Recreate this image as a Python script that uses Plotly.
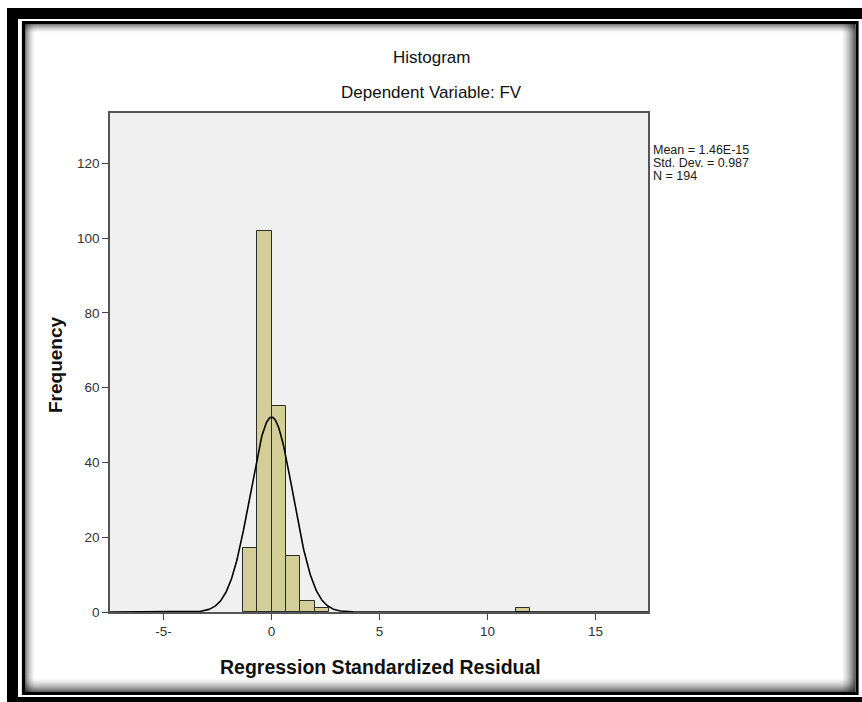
import numpy as np
import plotly.graph_objects as go

# ---- data ----
bin_width = 0.665
bin_starts = [-1.33, -0.665, 0.0, 0.665, 1.33, 1.995, 11.305]
counts = [17, 102, 55, 15, 3, 1, 1]
stat_mean = 1.46e-15
stat_sd = 0.987
stat_n = 194
x_tick_vals = [-5, 0, 5, 10, 15]
x_tick_text = ["-5-", "0", "5", "10", "15"]
y_tick_vals = [0, 20, 40, 60, 80, 100, 120]
stat_lines = ["Mean = 1.46E-15", "Std. Dev. = 0.987", "N = 194"]

# ---- geometry ----
W, H = 862, 702
L, R, T, B = 110, 648, 113, 612


def X(px):
    return (px - L) / (R - L)


def Y(py):
    return (B - py) / (B - T)


FONT = "Liberation Sans, Arial, sans-serif"

centers = [s + bin_width / 2 for s in bin_starts]

fig = go.Figure()
fig.add_trace(go.Bar(
    x=centers, y=counts, width=[bin_width] * len(counts),
    marker=dict(color="#D3CE98", line=dict(color="#2b2b2b", width=1)),
    hoverinfo="x+y", showlegend=False,
))

xs = np.linspace(-7.48, 17.43, 800)
ys = stat_n * bin_width * np.exp(-0.5 * ((xs - stat_mean) / stat_sd) ** 2) / (stat_sd * np.sqrt(2 * np.pi))
fig.add_trace(go.Scatter(x=xs, y=ys, mode="lines", line=dict(color="black", width=1.6),
                         showlegend=False, hoverinfo="skip"))

shapes = []
# outer thick black frame (top, left, bottom)
for x0, y0, x1, y1 in [(7, 8, 872, 19), (7, 8, 18, 712), (7, 697, 872, 712)]:
    shapes.append(dict(type="rect", xref="paper", yref="paper", x0=X(x0), x1=X(x1),
                       y0=Y(y1), y1=Y(y0), fillcolor="black", line=dict(width=0), layer="above"))
# inner thin frame
shapes.append(dict(type="rect", xref="paper", yref="paper", x0=X(23.5), x1=X(857), y0=Y(693.5), y1=Y(22.5),
                   line=dict(color="black", width=3.2), fillcolor="rgba(0,0,0,0)", layer="above"))
# shadow gradients inside inner frame
il, ir, it, ib = 25, 855, 24, 692
nL, nT, nR, nB = 10, 9, 14, 14
for i in range(nL):
    a = 0.5 * (1 - i / nL) ** 1.6
    shapes.append(dict(type="line", xref="paper", yref="paper", x0=X(il + i + 0.5), x1=X(il + i + 0.5),
                       y0=Y(ib), y1=Y(it), line=dict(color=f"rgba(0,0,0,{a:.3f})", width=1)))
for i in range(nT):
    a = 0.5 * (1 - i / nT) ** 1.6
    shapes.append(dict(type="line", xref="paper", yref="paper", x0=X(il), x1=X(ir),
                       y0=Y(it + i + 0.5), y1=Y(it + i + 0.5), line=dict(color=f"rgba(0,0,0,{a:.3f})", width=1)))
for i in range(nR):
    a = 0.6 * (1 - i / nR) ** 1.6
    shapes.append(dict(type="line", xref="paper", yref="paper", x0=X(ir - i - 0.5), x1=X(ir - i - 0.5),
                       y0=Y(ib), y1=Y(it), line=dict(color=f"rgba(0,0,0,{a:.3f})", width=1)))
for i in range(nB):
    a = 0.6 * (1 - i / nB) ** 1.6
    shapes.append(dict(type="line", xref="paper", yref="paper", x0=X(il), x1=X(ir),
                       y0=Y(ib - i - 0.5), y1=Y(ib - i - 0.5), line=dict(color=f"rgba(0,0,0,{a:.3f})", width=1)))

annotations = [
    dict(text="Histogram", x=X(431), y=Y(57), xref="paper", yref="paper", showarrow=False,
         xanchor="center", yanchor="middle", font=dict(family=FONT, size=17, color="#111111")),
    dict(text="Dependent Variable: FV", x=X(431), y=Y(93), xref="paper", yref="paper", showarrow=False,
         xanchor="center", yanchor="middle", font=dict(family=FONT, size=17, color="#111111")),
    dict(text="<b>Regression Standardized Residual</b>", x=X(380), y=Y(667), xref="paper", yref="paper",
         showarrow=False, xanchor="center", yanchor="middle", font=dict(family=FONT, size=19.5, color="#111111")),
    dict(text="<b>Frequency</b>", x=X(55), y=Y(365), xref="paper", yref="paper", textangle=-90,
         showarrow=False, xanchor="center", yanchor="middle", font=dict(family=FONT, size=19, color="#111111")),
]
for i, line in enumerate(stat_lines):
    annotations.append(dict(text=line, x=X(651), y=Y(150 + 13 * i), xref="paper", yref="paper",
                            showarrow=False, xanchor="left", yanchor="middle",
                            font=dict(family=FONT, size=12.5, color="#1a1a1a")))

fig.update_layout(
    width=W, height=H,
    margin=dict(l=L, r=W - R, t=T, b=H - B, pad=0),
    paper_bgcolor="white", plot_bgcolor="#F0F0F0",
    bargap=0, showlegend=False,
    shapes=shapes, annotations=annotations,
    font=dict(family=FONT, size=13, color="#333333"),
)
fig.update_xaxes(range=[-7.48, 17.43], tickvals=x_tick_vals, ticktext=x_tick_text,
                 ticks="outside", ticklen=6, tickcolor="#444", tickwidth=1.3,
                 showline=True, mirror=True, linecolor="#555", linewidth=1.5,
                 showgrid=False, zeroline=False, tickfont=dict(size=13.5, color="#333"))
fig.update_yaxes(range=[0, 133.5], tickvals=y_tick_vals,
                 ticks="outside", ticklen=6, tickcolor="#444", tickwidth=1.3,
                 showline=True, mirror=True, linecolor="#555", linewidth=1.5,
                 showgrid=False, zeroline=False, tickfont=dict(size=13.5, color="#333"))

fig.write_html("out.html", config={"displayModeBar": False},
               post_script="document.body.style.margin='0';document.body.style.overflow='hidden';")
